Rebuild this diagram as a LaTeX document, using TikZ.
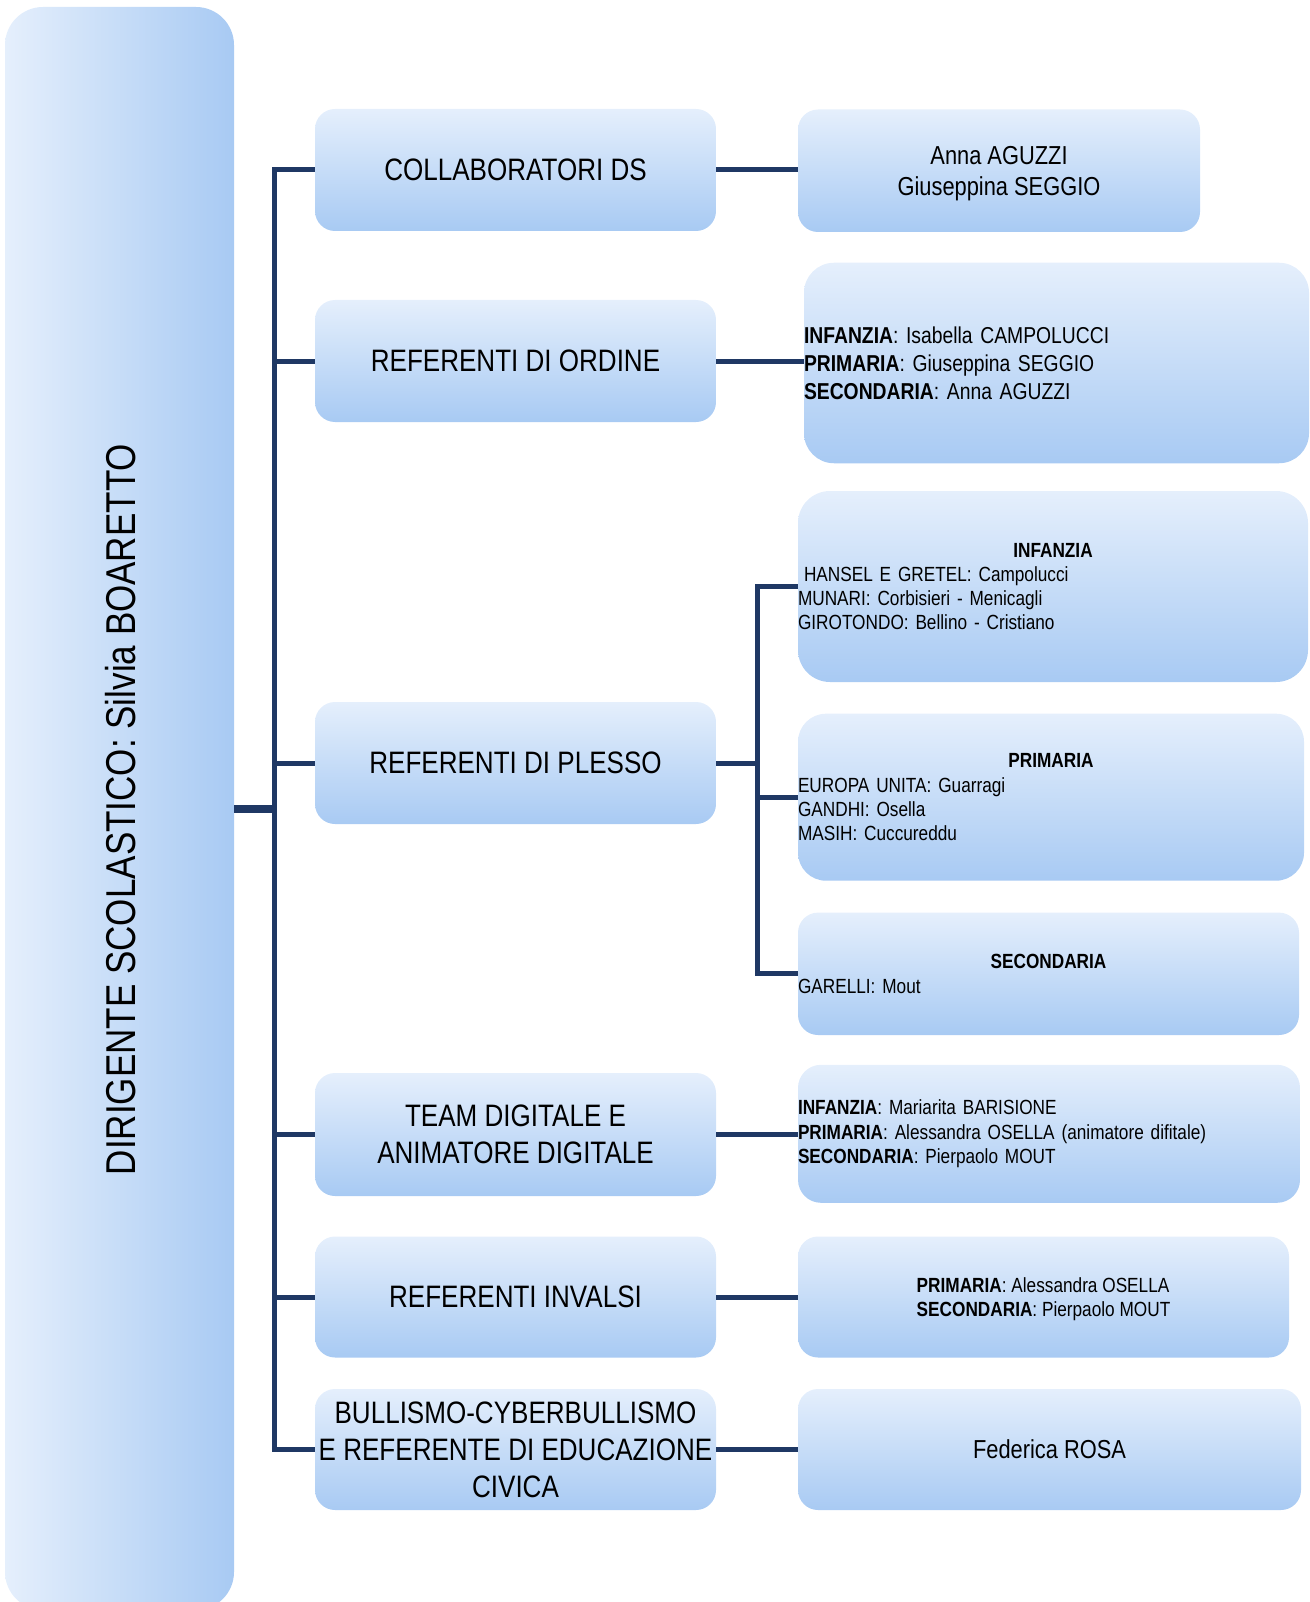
\documentclass[tikz,border=0pt]{standalone}
\usepackage{fontspec}
\setmainfont[FakeStretch=0.84]{Liberation Sans}
\definecolor{boxtop}{RGB}{229,239,252}
\definecolor{boxbot}{RGB}{168,202,243}
\definecolor{linkblue}{RGB}{31,56,100}
\newcommand{\bigtxt}{\fontsize{41.7}{50}\selectfont}
\newcommand{\midtxt}{\fontsize{31}{37}\selectfont}
\newcommand{\nametxt}{\fontsize{26}{30.7}\selectfont}
\newcommand{\listtxt}{\fontsize{23}{27.8}\selectfont}
\newcommand{\smalltxt}{\fontsize{20.5}{24.3}\selectfont}

\begin{document}
\begin{tikzpicture}[x=1pt,y=-1pt,
    box/.style={rectangle,rounded corners=20pt,top color=boxtop,bottom color=boxbot,inner sep=0pt,font=\nametxt},
    mid/.style={box,minimum width=401pt,minimum height=122pt,align=center,font=\midtxt},
    link/.style={draw=linkblue,line width=5pt}]
    \useasboundingbox (0,0) rectangle (1309,1602);
    \node[box,rounded corners=38pt,top color=boxtop,bottom color=boxtop,left color=boxtop,right color=boxbot,
          minimum width=229pt,minimum height=1603pt] (boss) at (119.5,808.5) {};
    \node[rotate=90,font=\bigtxt] (bosstxt) at (121,809.5) {DIRIGENTE SCOLASTICO: Silvia BOARETTO};

    \node[mid] (collab)  at (515.5,170)    {COLLABORATORI DS};
    \node[mid] (ordine)  at (515.5,361)    {REFERENTI DI ORDINE};
    \node[mid] (plesso)  at (515.5,763)    {REFERENTI DI PLESSO};
    \node[mid,minimum height=123pt] (team) at (515.5,1134.5) {TEAM DIGITALE E\\ANIMATORE DIGITALE};
    \node[mid,minimum height=121pt] (invalsi) at (515.5,1297) {REFERENTI INVALSI};
    \node[mid,minimum height=121pt] (bull) at (515.5,1449.5) {BULLISMO-CYBERBULLISMO\\E REFERENTE DI EDUCAZIONE\\CIVICA};

    \node[box,minimum width=402pt,minimum height=122.5pt,align=center,text depth=0pt] (anna) at (999,170.75)
        {Anna AGUZZI\\Giuseppina SEGGIO};
    \node[box,rounded corners=30pt,minimum height=200.5pt,text width=505pt,align=left,font=\listtxt] (ordref) at (1056.5,363)
        {\textbf{INFANZIA}: Isabella CAMPOLUCCI\\ \textbf{PRIMARIA}: Giuseppina SEGGIO\\ \textbf{SECONDARIA}: Anna AGUZZI};
    \node[box,rounded corners=32pt,minimum height=191pt,text width=510pt,align=left,font=\smalltxt] (pinf) at (1053,586.5)
        {\makebox[510pt]{\textbf{INFANZIA}}\\ \hspace*{6pt}HANSEL E GRETEL: Campolucci\\ MUNARI: Corbisieri - Menicagli\\ GIROTONDO: Bellino - Cristiano};
    \node[box,rounded corners=28pt,minimum height=167pt,text width=506pt,align=left,font=\smalltxt] (pprim) at (1051,797.2)
        {\makebox[506pt]{\textbf{PRIMARIA}}\\ EUROPA UNITA: Guarragi\\ GANDHI: Osella\\ MASIH: Cuccureddu};
    \node[box,minimum height=122.4pt,text width=501pt,align=left,font=\smalltxt] (psec) at (1048.5,973.8)
        {\makebox[501pt]{\textbf{SECONDARIA}}\\ GARELLI: Mout};
    \node[box,rounded corners=23pt,minimum height=138pt,text width=502pt,align=left,font=\smalltxt] (digi) at (1049,1133.8)
        {\textbf{INFANZIA}: Mariarita BARISIONE\\ \textbf{PRIMARIA}: Alessandra OSELLA (animatore difitale)\\ \textbf{SECONDARIA}: Pierpaolo MOUT};
    \node[box,minimum width=491pt,minimum height=121pt,align=left,font=\smalltxt,text depth=0pt] (invnames) at (1043.5,1297)
        {\textbf{PRIMARIA}: Alessandra OSELLA\\ \textbf{SECONDARIA}: Pierpaolo MOUT};
    \node[box,minimum width=503pt,minimum height=121pt] (rosa) at (1049.5,1449.5) {Federica ROSA};

    \coordinate (trunk) at (274,808.5);
    \coordinate (pfork) at (757,763);
    \draw[link,line width=8pt] (boss.east) -- (trunk);
    \foreach \n in {collab,ordine,plesso,team,invalsi,bull}
        \draw[link] (trunk) |- (\n.west);
    \draw[link] (collab.east) -- (collab.east -| anna.west);
    \draw[link] (ordine.east) -- (ordine.east -| ordref.west);
    \draw[link] (plesso.east) -- (pfork);
    \foreach \n in {pinf,pprim,psec}
        \draw[link] (pfork) |- (\n.west);
    \draw[link] (team.east) -- (team.east -| digi.west);
    \draw[link] (invalsi.east) -- (invalsi.east -| invnames.west);
    \draw[link] (bull.east) -- (bull.east -| rosa.west);
\end{tikzpicture}
\end{document}
